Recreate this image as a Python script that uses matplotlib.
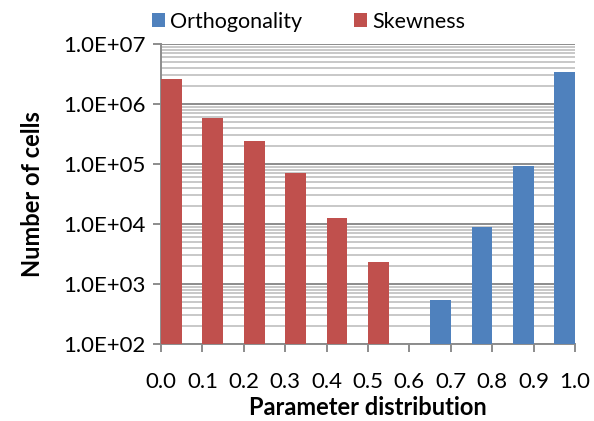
import numpy as np
import matplotlib
matplotlib.use('Agg')
import matplotlib.pyplot as plt
from matplotlib.ticker import LogLocator, NullFormatter

plt.rcParams['font.family'] = ['Lato', 'DejaVu Sans']

edges = [0.0, 0.1, 0.2, 0.3, 0.4, 0.5, 0.6, 0.7, 0.8, 0.9, 1.0]
tick_labels = ['0.0', '0.1', '0.2', '0.3', '0.4', '0.5', '0.6', '0.7', '0.8', '0.9', '1.0']
skew_bins = [0.0, 0.1, 0.2, 0.3, 0.4, 0.5]
skew_vals = [2.6e6, 5.8e5, 2.4e5, 7.1e4, 1.26e4, 2.3e3]
orth_bins = [0.6, 0.7, 0.8, 0.9]
orth_vals = [5.4e2, 8.9e3, 9.3e4, 3.4e6]

blue = '#4f81bd'
red = '#c0504d'
w = 0.05

fig = plt.figure(figsize=(5.94, 4.21), dpi=100)
ax = fig.add_axes([161/594, 1 - 344/421, (575-161)/594, 300/421])

ax.bar(np.array(orth_bins) + w, orth_vals, width=w, align='edge', color=blue,
       label='Orthogonality', zorder=3)
ax.bar(skew_bins, skew_vals, width=w, align='edge', color=red,
       label='Skewness', zorder=3)

ax.set_yscale('log')
ax.set_ylim(1e2, 1e7)
ax.set_xlim(0, 1.0)
ax.yaxis.set_minor_locator(LogLocator(base=10, subs=np.arange(2, 10), numticks=20))
ax.yaxis.set_minor_formatter(NullFormatter())
ax.set_yticks([1e2, 1e3, 1e4, 1e5, 1e6, 1e7])
ax.set_yticklabels(['1.0E+02', '1.0E+03', '1.0E+04', '1.0E+05', '1.0E+06', '1.0E+07'])
ax.set_xticks(edges)
ax.set_xticklabels(tick_labels)

ax.grid(True, which='major', axis='y', color='#8c8c8c', lw=1.4, zorder=0)
ax.grid(True, which='minor', axis='y', color='#bfbfbf', lw=1.2, zorder=0)

for s in ['top', 'right']:
    ax.spines[s].set_visible(False)
for s in ['left', 'bottom']:
    ax.spines[s].set_color('#8c8c8c')
    ax.spines[s].set_linewidth(1.4)

ax.tick_params(axis='both', which='major', colors='#8c8c8c', width=1.4, length=6,
               labelcolor='black', labelsize=16)
ax.tick_params(axis='y', which='minor', length=0)
ax.tick_params(axis='y', pad=5)
ax.tick_params(axis='x', pad=14)

ax.set_ylabel('Number of cells', fontsize=17, fontweight='bold', labelpad=14)
ax.set_xlabel('Parameter distribution', fontsize=17, fontweight='bold', labelpad=3)

ax.legend(loc='center', bbox_to_anchor=(0.356, 1.075), ncol=2, frameon=False,
          fontsize=15.5, handlelength=0.6, handleheight=0.6, handletextpad=0.25,
          columnspacing=2.4, borderaxespad=0)

fig.savefig('out.png', dpi=100)
